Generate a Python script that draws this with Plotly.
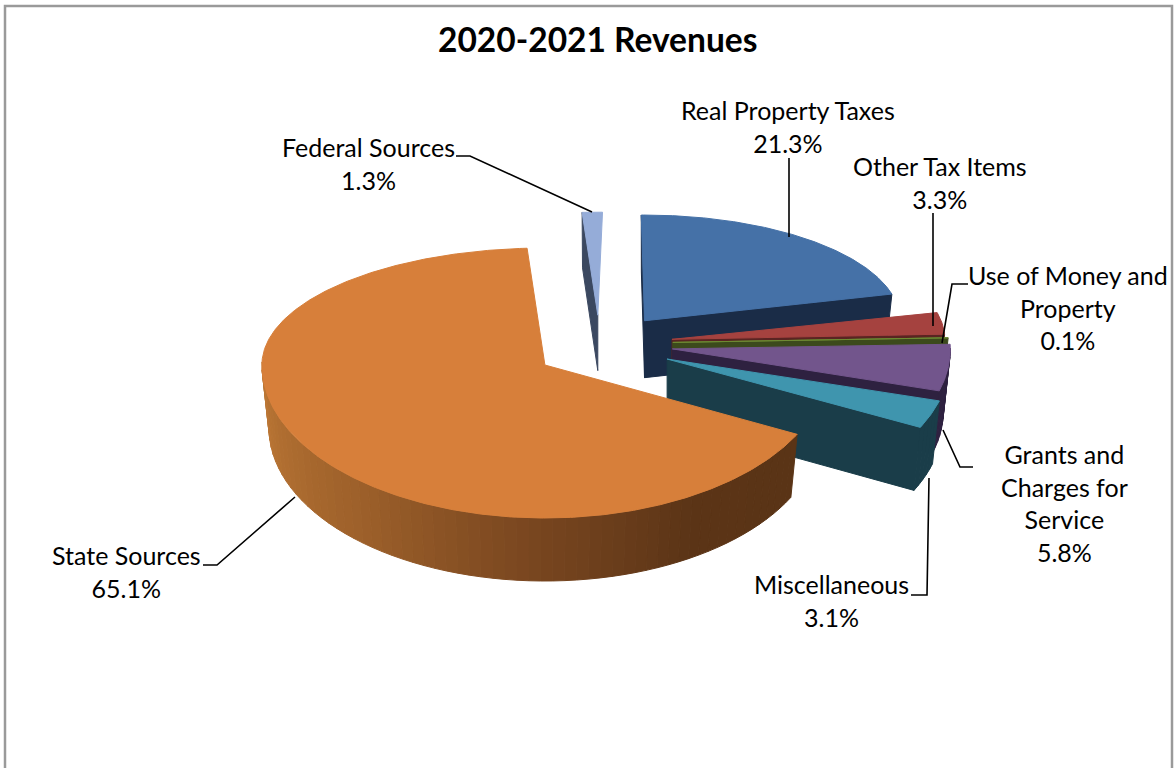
import numpy as np
import plotly.graph_objects as go

# ---- data ----
categories = ["Federal Sources", "Real Property Taxes", "Other Tax Items",
              "Use of Money and<br>Property", "Grants and<br>Charges for<br>Service",
              "Miscellaneous", "State Sources"]
values = [1.3, 21.3, 3.3, 0.1, 5.8, 3.1, 65.1]
top_colors = ["#95ACD8", "#4571A7", "#A5423F", "#6E8A33", "#72558C", "#3F95AE", "#D77F3A"]
wall_colors = ["#3B4860", "#1A2C47", "#5A2422", "#3C4A1C", "#2E2140", "#1A3D49", "#5A3416"]
title_text = "2020-2021 Revenues"

# ---- geometry of the tilted, exploded pie ----
START_DEG = 263.4
CX, CY = 603, 344
RX, RY_FRONT, RY_BACK = 283, 153, 117
EXPLODE = 0.247
DEPTH = 63
TAPER = 0.975
WARP = [3.0, 1.2, 3.0, 3.0, 3.0, 3.6, 3.0]
FONT = "Lato"
LABEL_SIZE = 25

label_pos = [(368, 163), (788, 126), (940, 182), (1068, 307), (1064, 503), (831, 600), (126, 571)]
leaders = [
    ([456, 470, 592], [156, 156, 212]),
    ([789, 789], [158, 237]),
    ([933, 933], [213, 326]),
    ([968, 952, 942], [284, 284, 343]),
    ([973, 960, 943], [467, 467, 430]),
    ([911, 927, 929], [595, 595, 478]),
    ([203, 217, 295], [565, 565, 497]),
]


def ry(sin_a):
    return np.where(sin_a >= 0, RY_FRONT, RY_BACK)


def rim(deg, cx, cy, s, warp):
    t0 = np.sin(np.radians(deg))
    # perspective widens the apparent angle of the near slices
    t = np.radians(deg - warp * np.sign(t0) * np.sqrt(np.abs(t0)))
    return cx + s * RX * np.cos(t), cy + s * ry(np.sin(t)) * np.sin(t)


def hex2rgb(h):
    return np.array([int(h[i:i + 2], 16) for i in (1, 3, 5)], float)


def blend(stops, f):
    xs = [p for p, _ in stops]
    rgb = [np.interp(f, xs, [hex2rgb(c)[k] for _, c in stops]) for k in range(3)]
    return "rgb(%d,%d,%d)" % tuple(rgb)


state_wall = [(0.0, "#5A3416"), (0.22, "#5C3517"), (0.45, "#7A4720"),
              (0.7, "#9E612B"), (1.0, "#BC7735")]

fig = go.Figure()


def poly(x, y, color):
    fig.add_trace(go.Scatter(x=list(x), y=list(y), mode="lines", fill="toself", fillcolor=color,
                             line=dict(color=color, width=1), hoverinfo="skip", showlegend=False))


edges = START_DEG + np.cumsum([0] + values) * 3.6
for i, name in enumerate(categories):
    a1, a2 = edges[i], edges[i + 1]
    mid = np.radians((a1 + a2) / 2)
    sm, cm = np.sin(mid), np.cos(mid)
    cx = CX + EXPLODE * RX * cm
    cy = CY + EXPLODE * (RY_FRONT if sm >= 0 else RY_BACK) * sm
    s = 1 - 0.12 * max(0, -sm) - 0.02 * max(0, (cm - 0.93) / 0.07)
    d = DEPTH * s
    wall = wall_colors[i]
    w = WARP[i]

    def low(px, py):
        return cx + (np.asarray(px) - cx) * TAPER, np.asarray(py) + d

    # cut faces turned to the viewer
    for ang, vis in ((a1, np.cos(np.radians(a1)) < 0), (a2, np.cos(np.radians(a2)) > 0)):
        if vis:
            ex, ey = rim(ang, cx, cy, s, w)
            lx, ly = low([cx, ex], [cy, ey])
            poly([cx, ex, lx[1], lx[0], cx], [cy, ey, ly[1], ly[0], cy], wall)

    # outer wall, front half only
    grid = np.linspace(a1, a2, max(4, int((a2 - a1) / 2.5) + 2))
    for g0, g1 in zip(grid[:-1], grid[1:]):
        gm = (g0 + g1) / 2
        if np.sin(np.radians(gm % 360)) < -0.02:
            continue
        xa, ya = rim(np.array([g0, g1]), cx, cy, s, w)
        lx, ly = low(xa, ya)
        if name == "State Sources":
            f = (gm - a1) / 150
            col = blend(state_wall, float(np.clip(f, 0, 1)))
        else:
            col = wall
        poly([xa[0], xa[1], lx[1], lx[0], xa[0]], [ya[0], ya[1], ly[1], ly[0], ya[0]], col)

    # top face
    arc = np.linspace(a1, a2, max(3, int((a2 - a1) * 2)))
    ax, ay = rim(arc, cx, cy, s, w)
    poly(np.r_[cx, ax, cx], np.r_[cy, ay, cy], top_colors[i])

for lx, ly in leaders:
    fig.add_trace(go.Scatter(x=lx, y=ly, mode="lines", line=dict(color="black", width=1.6),
                             hoverinfo="skip", showlegend=False))

for name, v, (x, y) in zip(categories, values, label_pos):
    fig.add_annotation(x=x, y=y, text=f"{name}<br>{v:.1f}%", showarrow=False, xanchor="center", yanchor="middle",
                       font=dict(family=FONT, size=LABEL_SIZE, color="black"), align="center")

fig.add_annotation(x=597, y=39, text=f"<b>{title_text}</b>", showarrow=False,
                   font=dict(family=FONT, size=33.5, color="black"))

fig.add_shape(type="rect", x0=5, y0=6, x1=1172, y1=790, line=dict(color="#9A9A9A", width=2.5), layer="below")

fig.update_layout(width=1175, height=768, margin=dict(l=0, r=0, t=0, b=0), paper_bgcolor="white",
                  plot_bgcolor="white", showlegend=False,
                  xaxis=dict(range=[0, 1175], visible=False, fixedrange=True),
                  yaxis=dict(range=[768, 0], visible=False, fixedrange=True))
fig.write_html("out.html", config=dict(displayModeBar=False),
               post_script="document.body.style.margin='0';document.body.style.overflow='hidden';"
                           "document.documentElement.style.overflow='hidden';")
